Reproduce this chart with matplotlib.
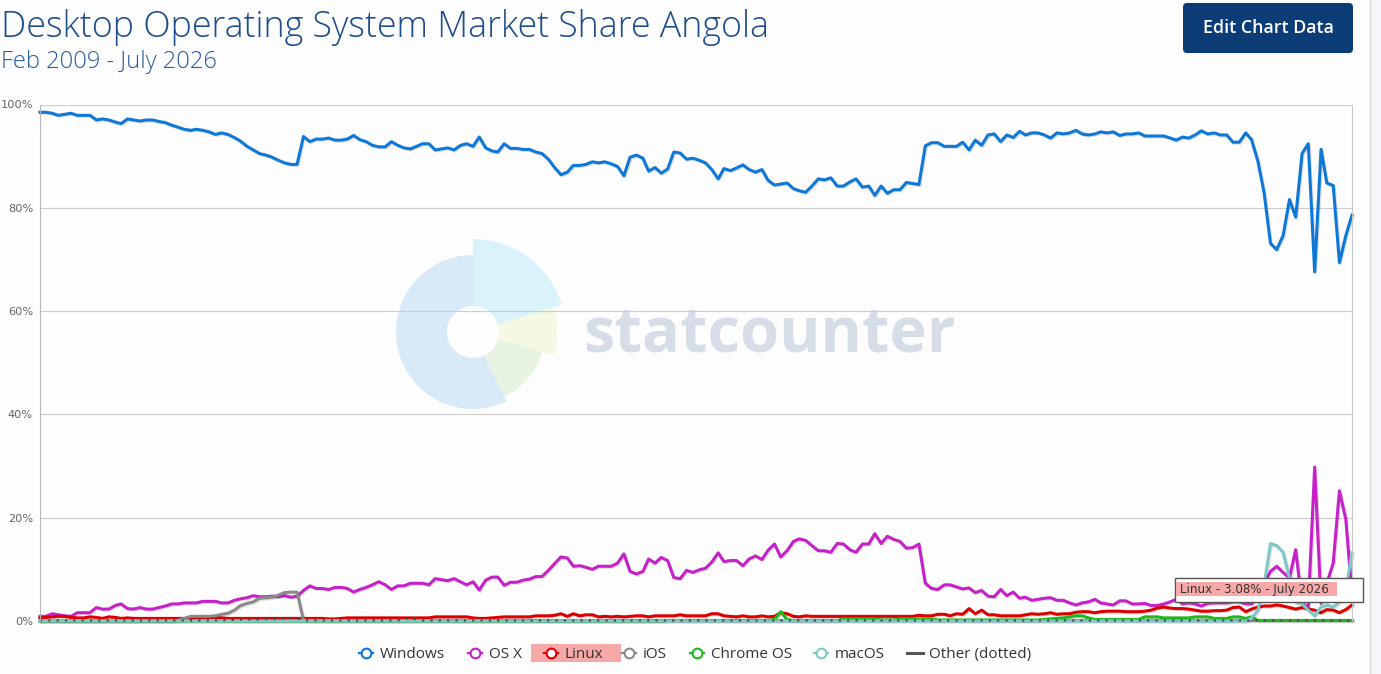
import matplotlib
matplotlib.use("Agg")
import pandas as pd
import matplotlib.pyplot as plt
import matplotlib.patheffects as pe
from matplotlib.patches import Wedge, Rectangle, FancyBboxPatch
from matplotlib.lines import Line2D

W, H = 1381, 674

# monthly share values, Feb 2009 .. July 2026
months = pd.date_range("2009-02-01", "2026-07-01", freq="MS")

windows = [
    98.5, 98.5, 98.3, 97.9, 98.1, 98.3, 97.9, 97.9, 97.9, 97.0,
    97.2, 97.0, 96.6, 96.3, 97.2, 97.0, 96.8, 97.0, 97.0, 96.7,
    96.5, 96.0, 95.6, 95.2, 95.0, 95.2, 95.0, 94.7, 94.2, 94.5,
    94.2, 93.6, 92.9, 91.9, 91.2, 90.5, 90.2, 89.8, 89.2, 88.7,
    88.4, 88.4, 93.8, 92.8, 93.3, 93.3, 93.5, 93.1, 93.1, 93.3,
    94.0, 93.2, 92.8, 92.1, 91.8, 91.8, 92.8, 92.1, 91.6, 91.4,
    91.9, 92.4, 92.4, 91.2, 91.4, 91.6, 91.2, 92.1, 92.4, 91.9,
    93.7, 91.6, 91.0, 90.8, 92.4, 91.5, 91.5, 91.3, 91.3, 90.8,
    90.5, 89.4, 87.8, 86.4, 86.9, 88.2, 88.2, 88.4, 88.9, 88.7,
    88.9, 88.5, 88.0, 86.2, 89.8, 90.2, 89.6, 87.1, 87.8, 86.7,
    87.5, 90.8, 90.6, 89.4, 89.6, 89.2, 88.7, 87.4, 85.6, 87.6,
    87.2, 87.7, 88.3, 87.4, 86.9, 87.4, 85.3, 84.4, 84.6, 84.8,
    83.7, 83.3, 83.0, 84.2, 85.6, 85.4, 85.8, 84.2, 84.2, 85.0,
    85.6, 84.0, 84.2, 82.4, 84.2, 82.8, 83.5, 83.5, 84.9, 84.7,
    84.5, 92.0, 92.6, 92.6, 91.9, 91.9, 91.9, 92.7, 91.2, 93.1,
    92.1, 94.1, 94.3, 92.8, 94.1, 93.6, 94.8, 94.1, 94.5, 94.5,
    94.1, 93.5, 94.5, 94.3, 94.5, 95.0, 94.3, 94.1, 94.3, 94.7,
    94.5, 94.7, 94.0, 94.3, 94.3, 94.5, 93.9, 93.9, 93.9, 93.9,
    93.5, 93.1, 93.7, 93.5, 94.1, 94.9, 94.3, 94.5, 94.1, 94.1,
    92.7, 92.7, 94.5, 93.2, 89.0, 82.9, 73.1, 71.9, 74.6, 81.6,
    78.2, 90.5, 92.4, 67.6, 91.3, 84.8, 84.3, 69.4, 74.6, 78.6,
]

osx = [
    0.9, 0.9, 1.4, 1.2, 1.0, 0.9, 1.6, 1.6, 1.6, 2.6,
    2.3, 2.3, 3.0, 3.3, 2.4, 2.3, 2.6, 2.3, 2.3, 2.6,
    2.9, 3.3, 3.3, 3.5, 3.5, 3.5, 3.8, 3.8, 3.8, 3.5,
    3.5, 4.0, 4.3, 4.5, 4.9, 4.7, 4.7, 4.8, 4.7, 4.9,
    4.6, 4.8, 5.9, 6.8, 6.3, 6.3, 6.1, 6.5, 6.5, 6.3,
    5.6, 6.1, 6.5, 7.0, 7.6, 7.0, 6.1, 6.8, 6.8, 7.3,
    7.3, 7.3, 7.0, 8.2, 8.0, 7.8, 8.2, 7.6, 7.0, 7.6,
    6.0, 7.9, 8.5, 8.5, 6.9, 7.5, 7.5, 7.9, 8.1, 8.6,
    8.6, 9.8, 11.1, 12.4, 12.2, 10.6, 10.7, 10.4, 10.0, 10.6,
    10.6, 10.6, 11.2, 13.0, 9.6, 9.1, 9.6, 12.0, 11.2, 12.3,
    11.7, 8.4, 8.2, 9.8, 9.4, 9.9, 10.2, 11.4, 13.2, 11.5,
    11.7, 11.7, 10.7, 12.0, 12.6, 11.9, 13.7, 14.9, 12.4, 13.6,
    15.4, 15.9, 15.6, 14.6, 13.6, 13.6, 13.3, 15.0, 14.9, 13.8,
    13.3, 14.9, 14.9, 16.9, 15.0, 16.4, 15.8, 15.4, 14.1, 14.2,
    14.9, 7.3, 6.3, 6.1, 7.0, 7.0, 6.6, 6.2, 6.4, 5.5,
    5.9, 4.8, 4.7, 6.1, 4.9, 5.6, 4.4, 4.6, 4.0, 4.2,
    4.4, 4.5, 4.0, 4.0, 3.5, 3.1, 3.5, 3.7, 4.2, 3.5,
    3.3, 3.1, 3.9, 3.9, 3.3, 3.3, 3.4, 3.0, 3.0, 3.3,
    3.7, 4.2, 3.3, 3.5, 3.3, 2.9, 3.4, 3.5, 3.5, 3.5,
    3.7, 3.7, 3.3, 3.3, 4.7, 7.3, 9.6, 10.6, 9.4, 8.3,
    13.8, 3.4, 2.7, 29.8, 3.4, 7.3, 11.2, 25.2, 19.7, 5.0,
]

linux = [
    0.6, 0.7, 0.8, 0.9, 0.9, 0.7, 0.6, 0.6, 0.8, 0.7,
    0.5, 0.8, 0.7, 0.5, 0.6, 0.5, 0.5, 0.5, 0.5, 0.5,
    0.5, 0.5, 0.5, 0.5, 0.5, 0.6, 0.6, 0.6, 0.7, 0.6,
    0.5, 0.5, 0.5, 0.5, 0.5, 0.5, 0.5, 0.5, 0.5, 0.5,
    0.5, 0.5, 0.5, 0.5, 0.5, 0.5, 0.4, 0.4, 0.5, 0.6,
    0.6, 0.6, 0.6, 0.6, 0.6, 0.6, 0.6, 0.6, 0.6, 0.6,
    0.6, 0.6, 0.6, 0.8, 0.8, 0.8, 0.8, 0.8, 0.8, 0.6,
    0.5, 0.5, 0.6, 0.7, 0.8, 0.8, 0.8, 0.8, 0.8, 1.0,
    1.0, 1.0, 1.1, 1.4, 0.9, 1.4, 1.0, 1.2, 1.2, 0.8,
    0.9, 0.8, 0.9, 0.8, 0.9, 1.0, 1.0, 0.8, 1.0, 1.0,
    1.0, 1.0, 1.2, 1.0, 1.0, 1.0, 1.0, 1.4, 1.4, 1.0,
    0.9, 0.8, 1.0, 0.8, 0.8, 1.0, 0.8, 0.9, 1.6, 1.4,
    0.9, 0.8, 1.0, 0.9, 0.9, 0.9, 0.9, 0.9, 0.9, 0.9,
    0.9, 0.9, 0.9, 0.9, 0.9, 0.9, 0.9, 0.9, 0.9, 0.9,
    1.1, 1.0, 1.0, 1.3, 1.3, 1.0, 1.4, 1.3, 2.4, 1.4,
    2.1, 1.2, 1.2, 1.0, 1.0, 1.0, 1.0, 1.2, 1.4, 1.3,
    1.4, 1.6, 1.3, 1.4, 1.4, 1.7, 1.8, 1.8, 1.6, 1.8,
    1.9, 1.9, 1.9, 1.8, 1.8, 1.8, 1.9, 2.1, 2.5, 2.7,
    2.5, 2.4, 2.4, 2.3, 2.1, 1.9, 1.9, 2.0, 2.0, 2.1,
    2.6, 2.7, 1.8, 2.3, 2.7, 2.9, 2.9, 3.1, 2.9, 2.6,
    2.3, 2.6, 2.3, 2.1, 1.6, 2.2, 2.1, 1.6, 2.2, 3.08,
]

ios = [
    0.0, 0.0, 0.0, 0.0, 0.0, 0.0, 0.0, 0.0, 0.0, 0.0,
    0.0, 0.0, 0.0, 0.0, 0.0, 0.0, 0.0, 0.0, 0.0, 0.0,
    0.0, 0.0, 0.1, 0.5, 0.9, 0.9, 0.9, 0.9, 1.0, 1.3,
    1.5, 2.1, 3.0, 3.4, 3.7, 4.4, 4.5, 4.6, 5.0, 5.5,
    5.6, 5.6, 0.1, 0.1, 0.1, 0.1, 0.1, 0.1, 0.1, 0.1,
    0.1, 0.1, 0.1, 0.1, 0.1, 0.1, 0.1, 0.1, 0.1, 0.1,
    0.1, 0.1, 0.1, 0.1, 0.1, 0.1, 0.1, 0.1, 0.1, 0.1,
    0.1, 0.1, 0.1, 0.1, 0.1, 0.1, 0.1, 0.1, 0.1, 0.1,
    0.1, 0.1, 0.1, 0.1, 0.1, 0.1, 0.1, 0.1, 0.1, 0.1,
    0.1, 0.1, 0.1, 0.1, 0.1, 0.1, 0.1, 0.1, 0.1, 0.1,
    0.1, 0.1, 0.1, 0.1, 0.1, 0.1, 0.1, 0.1, 0.1, 0.1,
    0.1, 0.1, 0.1, 0.1, 0.1, 0.1, 0.1, 0.1, 0.1, 0.1,
    0.1, 0.1, 0.1, 0.1, 0.1, 0.1, 0.1, 0.1, 0.1, 0.1,
    0.1, 0.1, 0.1, 0.1, 0.1, 0.1, 0.1, 0.1, 0.1, 0.1,
    0.1, 0.1, 0.1, 0.1, 0.1, 0.1, 0.1, 0.1, 0.1, 0.1,
    0.1, 0.1, 0.1, 0.1, 0.1, 0.1, 0.1, 0.1, 0.1, 0.1,
    0.1, 0.1, 0.1, 0.1, 0.1, 0.1, 0.1, 0.1, 0.1, 0.1,
    0.1, 0.1, 0.1, 0.1, 0.1, 0.1, 0.1, 0.1, 0.1, 0.1,
    0.1, 0.1, 0.1, 0.1, 0.1, 0.1, 0.1, 0.1, 0.1, 0.1,
    0.1, 0.1, 0.1, 0.1, 0.1, 0.1, 0.1, 0.1, 0.1, 0.1,
    0.1, 0.1, 0.1, 0.1, 0.1, 0.1, 0.1, 0.1, 0.1, 0.1,
]

chromeos = [
    0.0, 0.0, 0.0, 0.0, 0.0, 0.0, 0.0, 0.0, 0.0, 0.0,
    0.0, 0.0, 0.0, 0.0, 0.0, 0.0, 0.0, 0.0, 0.0, 0.0,
    0.0, 0.0, 0.0, 0.0, 0.0, 0.0, 0.0, 0.0, 0.0, 0.0,
    0.0, 0.0, 0.0, 0.0, 0.0, 0.0, 0.0, 0.0, 0.0, 0.0,
    0.0, 0.0, 0.0, 0.0, 0.0, 0.0, 0.0, 0.0, 0.0, 0.0,
    0.0, 0.0, 0.0, 0.0, 0.0, 0.0, 0.0, 0.0, 0.0, 0.0,
    0.0, 0.0, 0.0, 0.0, 0.0, 0.0, 0.0, 0.0, 0.0, 0.0,
    0.0, 0.0, 0.0, 0.0, 0.0, 0.0, 0.0, 0.0, 0.0, 0.0,
    0.0, 0.0, 0.0, 0.0, 0.0, 0.0, 0.0, 0.0, 0.0, 0.0,
    0.0, 0.0, 0.0, 0.0, 0.0, 0.0, 0.0, 0.0, 0.0, 0.0,
    0.1, 0.1, 0.1, 0.1, 0.1, 0.1, 0.1, 0.1, 0.1, 0.1,
    0.1, 0.1, 0.1, 0.1, 0.1, 0.1, 0.1, 0.3, 1.8, 0.3,
    0.1, 0.1, 0.1, 0.1, 0.1, 0.1, 0.1, 0.1, 0.4, 0.4,
    0.4, 0.4, 0.4, 0.4, 0.2, 0.2, 0.2, 0.4, 0.4, 0.4,
    0.4, 0.4, 0.4, 0.2, 0.2, 0.2, 0.2, 0.2, 0.2, 0.2,
    0.2, 0.2, 0.2, 0.2, 0.2, 0.2, 0.2, 0.2, 0.2, 0.2,
    0.3, 0.4, 0.5, 0.6, 0.8, 1.0, 1.0, 0.6, 0.3, 0.3,
    0.3, 0.3, 0.3, 0.3, 0.3, 0.3, 0.8, 0.8, 0.8, 0.6,
    0.6, 0.6, 0.6, 0.6, 0.8, 0.8, 0.8, 0.5, 0.5, 0.5,
    0.8, 0.8, 0.5, 0.8, 0.1, 0.1, 0.1, 0.1, 0.1, 0.1,
    0.1, 0.1, 0.1, 0.1, 0.1, 0.1, 0.1, 0.1, 0.1, 0.1,
]

macos = [
    0.0, 0.0, 0.0, 0.0, 0.0, 0.0, 0.0, 0.0, 0.0, 0.0,
    0.0, 0.0, 0.0, 0.0, 0.0, 0.0, 0.0, 0.0, 0.0, 0.0,
    0.0, 0.0, 0.0, 0.0, 0.0, 0.0, 0.0, 0.0, 0.0, 0.0,
    0.0, 0.0, 0.0, 0.0, 0.0, 0.0, 0.0, 0.0, 0.0, 0.0,
    0.0, 0.0, 0.0, 0.0, 0.0, 0.0, 0.0, 0.0, 0.0, 0.0,
    0.0, 0.0, 0.0, 0.0, 0.0, 0.0, 0.0, 0.0, 0.0, 0.0,
    0.0, 0.0, 0.0, 0.0, 0.0, 0.0, 0.0, 0.0, 0.0, 0.0,
    0.0, 0.0, 0.0, 0.0, 0.0, 0.0, 0.0, 0.0, 0.0, 0.0,
    0.0, 0.0, 0.0, 0.0, 0.0, 0.0, 0.0, 0.0, 0.0, 0.0,
    0.0, 0.0, 0.0, 0.0, 0.0, 0.0, 0.0, 0.0, 0.0, 0.0,
    0.0, 0.0, 0.0, 0.0, 0.0, 0.0, 0.0, 0.0, 0.0, 0.0,
    0.0, 0.0, 0.0, 0.0, 0.0, 0.0, 0.0, 0.0, 0.0, 0.0,
    0.0, 0.0, 0.0, 0.0, 0.0, 0.0, 0.0, 0.0, 0.0, 0.0,
    0.0, 0.0, 0.0, 0.0, 0.0, 0.0, 0.0, 0.0, 0.0, 0.0,
    0.0, 0.0, 0.0, 0.0, 0.0, 0.0, 0.0, 0.0, 0.0, 0.0,
    0.0, 0.0, 0.0, 0.0, 0.0, 0.0, 0.0, 0.0, 0.0, 0.0,
    0.0, 0.0, 0.0, 0.0, 0.0, 0.0, 0.0, 0.0, 0.0, 0.0,
    0.0, 0.0, 0.0, 0.0, 0.0, 0.0, 0.0, 0.0, 0.0, 0.0,
    0.0, 0.0, 0.0, 0.0, 0.0, 0.0, 0.0, 0.0, 0.0, 0.0,
    0.0, 0.0, 0.0, 0.5, 2.1, 7.0, 15.0, 14.6, 13.3, 8.3,
    3.7, 3.3, 2.1, 1.0, 2.7, 3.1, 2.7, 3.7, 6.0, 13.2,
]

other = [
    0.1, 0.1, 0.1, 0.1, 0.1, 0.1, 0.1, 0.1, 0.1, 0.1,
    0.1, 0.1, 0.1, 0.1, 0.1, 0.1, 0.1, 0.1, 0.1, 0.1,
    0.1, 0.1, 0.1, 0.1, 0.1, 0.1, 0.1, 0.1, 0.1, 0.1,
    0.2, 0.2, 0.3, 0.3, 0.3, 0.3, 0.4, 0.4, 0.4, 0.5,
    0.6, 0.6, 0.1, 0.1, 0.1, 0.1, 0.1, 0.1, 0.1, 0.1,
    0.1, 0.1, 0.1, 0.1, 0.1, 0.1, 0.1, 0.1, 0.4, 0.6,
    0.3, 0.1, 0.1, 0.1, 0.1, 0.1, 0.1, 0.1, 0.1, 0.1,
    0.1, 0.1, 0.1, 0.1, 0.1, 0.1, 0.1, 0.1, 0.1, 0.1,
    0.1, 0.1, 0.1, 0.1, 0.1, 0.1, 0.1, 0.1, 0.1, 0.1,
    0.1, 0.1, 0.1, 0.1, 0.1, 0.1, 0.1, 0.1, 0.1, 0.1,
    0.1, 0.1, 0.1, 0.1, 0.1, 0.1, 0.1, 0.1, 0.1, 0.1,
    0.1, 0.1, 0.1, 0.1, 0.1, 0.1, 0.1, 0.1, 0.1, 0.1,
    0.1, 0.1, 0.1, 0.1, 0.1, 0.1, 0.1, 0.1, 0.1, 0.1,
    0.1, 0.1, 0.1, 0.1, 0.1, 0.1, 0.1, 0.1, 0.1, 0.1,
    0.1, 0.1, 0.1, 0.1, 0.1, 0.1, 0.1, 0.1, 0.1, 0.1,
    0.1, 0.1, 0.1, 0.1, 0.1, 0.1, 0.1, 0.1, 0.1, 0.1,
    0.1, 0.1, 0.1, 0.1, 0.1, 0.1, 0.1, 0.1, 0.1, 0.1,
    0.1, 0.1, 0.1, 0.1, 0.1, 0.1, 0.1, 0.1, 0.1, 0.1,
    0.1, 0.1, 0.1, 0.1, 0.1, 0.1, 0.1, 0.1, 0.1, 0.1,
    0.1, 0.1, 0.1, 0.1, 0.1, 0.1, 0.1, 0.1, 0.1, 0.1,
    0.1, 0.1, 0.1, 0.1, 0.1, 0.1, 0.1, 0.1, 0.1, 0.1,
]

names = ["Windows", "OS X", "Linux", "iOS", "Chrome OS", "macOS", "Other (dotted)"]
colors = ["#0d78d8", "#c620c8", "#dc0000", "#8a8a8a", "#1fb81a", "#7ec8c8", "#444444"]
yticks = [0, 20, 40, 60, 80, 100]

title = "Desktop Operating System Market Share Angola"
subtitle = "Feb 2009 - July 2026"
tooltip = "Linux - 3.08% - July 2026"

fig = plt.figure(figsize=(W / 100, H / 100), dpi=100, facecolor="#fdfdfe")
renderer = fig.canvas.get_renderer()


def fit(t, width):
    # scale the font so the text spans the given pixel width
    w = t.get_window_extent(renderer).width
    t.set_fontsize(t.get_fontsize() * width / w)
    return t


# background layer: watermark logo
bg = fig.add_axes([0, 0, 1, 1], zorder=0)
bg.set_xlim(0, W)
bg.set_ylim(H, 0)
bg.axis("off")
cx, cy, hole = 473, 332, 26
for r, t1, t2, col in [(77, 64, 270, "#d8e9f8"), (93, 270, 343, "#daf3fb"),
                       (84, 343, 376, "#f5f9e3"), (72, 16, 64, "#e7f4e1")]:
    bg.add_patch(Wedge((cx, cy), r, t1, t2, width=r - hole, fc=col, ec="none"))
wm = bg.text(583, 352, "statcounter", family="Open Sans", weight="bold",
             fontsize=50, color="#d6dde7", va="baseline", ha="left")
fit(wm, 372)

# main chart
ax = fig.add_axes([40 / W, 53 / H, 1312 / W, 516.5 / H], zorder=1)
ax.patch.set_alpha(0)
shadow = [pe.SimpleLineShadow(offset=(0.8, -0.8), shadow_color="k", alpha=0.12), pe.Normal()]
data = [windows, osx, linux, ios, chromeos, macos]
for vals, col in zip(data, colors[:6]):
    ax.plot(months, vals, color=col, lw=2.2, solid_joinstyle="round",
            clip_on=False, path_effects=shadow)
ax.plot(months, other, color=colors[6], lw=1.5, ls=(0, (1, 3)), clip_on=False)

ax.set_xlim(months[0], months[-1])
ax.set_ylim(0, 100)
ax.set_yticks(yticks)
ax.set_yticklabels([f"{v}%" for v in yticks])
ax.set_xticks([])
ax.yaxis.grid(True, color="#cccccc", lw=0.8)
ax.set_axisbelow(True)
ax.tick_params(axis="y", length=0, pad=5, labelsize=8.2, labelcolor="#666666")
for s in ["top", "bottom"]:
    ax.spines[s].set_visible(False)
ax.spines["left"].set_color("#b8b8b8")
ax.spines["right"].set_color("#c8c8c8")

# top layer: titles, button, legend, tooltip
top = fig.add_axes([0, 0, 1, 1], zorder=2)
top.set_xlim(0, W)
top.set_ylim(H, 0)
top.axis("off")

t = top.text(1, 37, title, family="Open Sans", weight="light", fontsize=26,
             color="#1d4d8b", va="baseline")
fit(t, 771)
t = top.text(1, 68, subtitle, family="Open Sans", weight="light", fontsize=15,
             color="#2b5b9c", va="baseline")
fit(t, 216)

top.add_patch(FancyBboxPatch((1183, 3), 170, 50, boxstyle="round,pad=0,rounding_size=4",
                             fc="#0b3c76", ec="none"))
t = top.text(1268, 28, "Edit Chart Data", family="Open Sans", weight="semibold",
             fontsize=12, color="white", ha="center", va="center")
fit(t, 131)

top.plot([1370.5, 1370.5], [0, H], color="#d9d9d9", lw=1)
top.add_patch(Rectangle((1371, 0), 10, H, fc="#f4f6f9", ec="none"))

# legend
leg_y = 653
marker_x = [366, 475, 551, 629, 697, 821, 915]
top.add_patch(Rectangle((531, 644), 90, 18, fc="#f7a9a9", ec="none"))
for name, col, mx in zip(names, colors, marker_x):
    if name.startswith("Other"):
        top.add_line(Line2D([mx - 8, mx + 8], [leg_y, leg_y], color="#555555", lw=2.2))
    else:
        top.add_line(Line2D([mx - 7, mx + 7], [leg_y, leg_y], color=col, lw=1.6))
        top.add_line(Line2D([mx], [leg_y], marker="o", ms=7, mfc="white", mec=col, mew=1.5))
    top.text(mx + 14, leg_y + 1.5, name, family="Open Sans", fontsize=11, color="#333333",
             va="center", ha="left")

# hover tooltip
top.add_patch(Rectangle((1175, 578), 188, 24, fc="white", ec="#555555", lw=1))
top.add_patch(Rectangle((1176, 582), 161, 14, fc="#f7a9a9", ec="none"))
t = top.text(1180, 589.5, tooltip, family="DejaVu Sans", fontsize=8.6, color="#333333",
             va="center", ha="left")
fit(t, 149)

fig.savefig("out.png", dpi=100, facecolor=fig.get_facecolor())
